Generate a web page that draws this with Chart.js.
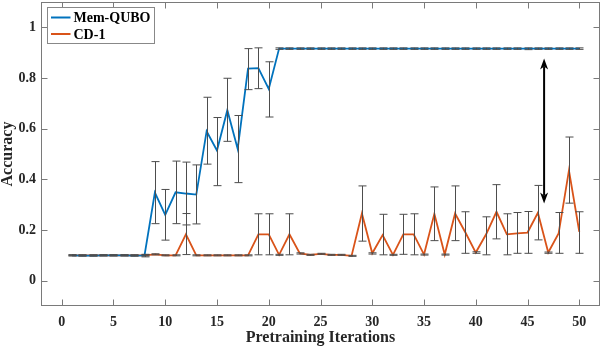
<!DOCTYPE html>
<html>
<head>
<meta charset="utf-8">
<script src="https://cdn.jsdelivr.net/npm/chart.js@4"></script>
<style>
  html, body { margin: 0; padding: 0; background: #fff; }
  canvas { display: block; }
</style>
</head>
<body>
<canvas id="accChart" width="602" height="348"></canvas>
<script>
const iterations = [1,2,3,4,5,6,7,8,9,10,11,12,13,14,15,16,17,18,19,20,21,22,23,24,25,26,27,28,29,30,31,32,33,34,35,36,37,38,39,40,41,42,43,44,45,46,47,48,49,50];

const memQubo = [0.1,0.099,0.099,0.1,0.1,0.1,0.099,0.1,0.348,0.26,0.349,0.344,0.34,0.59,0.514,0.673,0.52,0.837,0.839,0.757,
  0.916,0.916,0.916,0.916,0.916,0.916,0.916,0.916,0.916,0.916,0.916,0.916,0.916,0.916,0.916,0.916,0.916,0.916,0.916,0.916,
  0.916,0.916,0.916,0.916,0.916,0.916,0.916,0.916,0.916,0.916];
const memQuboLow = [0.098,0.097,0.097,0.098,0.098,0.098,0.097,0.094,0.225,0.16,0.225,0.22,0.224,0.46,0.375,0.55,0.387,0.754,0.758,0.646,
  0.913,0.913,0.913,0.913,0.913,0.913,0.913,0.913,0.913,0.913,0.913,0.913,0.913,0.913,0.913,0.913,0.913,0.913,0.913,0.913,
  0.913,0.913,0.913,0.913,0.912,0.913,0.913,0.913,0.913,0.913];
const memQuboHigh = [0.102,0.101,0.101,0.102,0.102,0.102,0.101,0.104,0.47,0.36,0.472,0.468,0.457,0.724,0.644,0.799,0.652,0.916,0.919,0.864,
  0.919,0.919,0.919,0.919,0.919,0.919,0.919,0.919,0.919,0.919,0.919,0.919,0.919,0.919,0.919,0.919,0.919,0.919,0.919,0.919,
  0.919,0.919,0.919,0.919,0.919,0.919,0.919,0.919,0.919,0.919];

const cdOne = [0.1,0.1,0.1,0.1,0.1,0.1,0.1,0.1,0.104,0.1,0.1,0.183,0.1,0.1,0.1,0.1,0.1,0.1,0.183,0.183,
  0.102,0.183,0.108,0.102,0.106,0.102,0.102,0.098,0.265,0.108,0.18,0.102,0.183,0.183,0.103,0.264,0.103,0.265,0.19,0.111,
  0.183,0.272,0.183,0.187,0.19,0.268,0.111,0.186,0.435,0.193];
const cdOneLow = [0.098,0.098,0.098,0.098,0.098,0.098,0.098,0.098,0.102,0.098,0.098,0.103,0.098,0.098,0.098,0.098,0.098,0.098,0.102,0.102,
  0.1,0.102,0.105,0.1,0.104,0.1,0.1,0.096,0.156,0.105,0.102,0.1,0.104,0.102,0.101,0.158,0.101,0.158,0.108,0.108,
  0.102,0.165,0.102,0.108,0.108,0.161,0.108,0.108,0.306,0.108];
const cdOneHigh = [0.102,0.102,0.102,0.102,0.102,0.102,0.102,0.102,0.106,0.102,0.102,0.265,0.102,0.102,0.102,0.102,0.102,0.102,0.264,0.264,
  0.104,0.264,0.11,0.104,0.108,0.104,0.104,0.1,0.374,0.11,0.262,0.104,0.262,0.264,0.105,0.37,0.105,0.374,0.272,0.114,
  0.252,0.379,0.264,0.269,0.273,0.376,0.113,0.269,0.567,0.272];

const xTicks = [0,5,10,15,20,25,30,35,40,45,50];
const yTicks = [0,0.2,0.4,0.6,0.8,1];
const yTickLabels = ['0','0.2','0.4','0.6','0.8','1'];

// the double arrow between the two curves (data units)
const arrowX = 46.6;
const arrowFrom = 0.305;
const arrowTo = 0.877;

const serif = '"Liberation Serif", "Times New Roman", serif';

function toPoints(ys) {
  return iterations.map((x, i) => ({ x: x, y: ys[i] }));
}

const errorBars = [
  { low: memQuboLow, high: memQuboHigh },
  { low: cdOneLow, high: cdOneHigh }
];

function arrowHead(ctx, x, y, dir) {
  // dir = -1 points up, 1 points down
  ctx.beginPath();
  ctx.moveTo(x, y);
  ctx.lineTo(x - 4, y - dir * 11);
  ctx.lineTo(x, y - dir * 8);
  ctx.lineTo(x + 4, y - dir * 11);
  ctx.closePath();
  ctx.fill();
}

const matlabFrame = {
  id: 'matlabFrame',
  afterDatasetsDraw(chart) {
    const ctx = chart.ctx;
    const xs = chart.scales.x;
    const ys = chart.scales.y;
    const area = chart.chartArea;

    // error bars
    ctx.save();
    ctx.strokeStyle = '#4d4d4d';
    ctx.lineWidth = 1;
    errorBars.forEach(eb => {
      iterations.forEach((it, i) => {
        const px = Math.round(xs.getPixelForValue(it)) + 0.5;
        const top = ys.getPixelForValue(eb.high[i]);
        const bot = ys.getPixelForValue(eb.low[i]);
        ctx.beginPath();
        ctx.moveTo(px, top);
        ctx.lineTo(px, bot);
        ctx.moveTo(px - 4, top);
        ctx.lineTo(px + 4, top);
        ctx.moveTo(px - 4, bot);
        ctx.lineTo(px + 4, bot);
        ctx.stroke();
      });
    });
    ctx.restore();

    // arrow
    ctx.save();
    ctx.strokeStyle = '#000';
    ctx.fillStyle = '#000';
    ctx.lineWidth = 2;
    const ax = xs.getPixelForValue(arrowX);
    const ayTop = ys.getPixelForValue(arrowTo);
    const ayBot = ys.getPixelForValue(arrowFrom);
    ctx.beginPath();
    ctx.moveTo(ax, ayTop + 8);
    ctx.lineTo(ax, ayBot - 8);
    ctx.stroke();
    arrowHead(ctx, ax, ayTop, -1);
    arrowHead(ctx, ax, ayBot, 1);
    ctx.restore();

    // box and inward ticks
    ctx.save();
    ctx.strokeStyle = '#7a7a7a';
    ctx.lineWidth = 1;
    const l = Math.round(area.left) + 0.5, r = Math.round(area.right) - 0.5;
    const t = Math.round(area.top) + 0.5, b = Math.round(area.bottom) - 0.5;
    ctx.strokeRect(l, t, r - l, b - t);
    ctx.beginPath();
    xTicks.forEach(v => {
      const px = Math.round(xs.getPixelForValue(v)) + 0.5;
      ctx.moveTo(px, b); ctx.lineTo(px, b - 6);
      ctx.moveTo(px, t); ctx.lineTo(px, t + 6);
    });
    yTicks.forEach(v => {
      const py = Math.round(ys.getPixelForValue(v)) + 0.5;
      ctx.moveTo(l, py); ctx.lineTo(l + 6, py);
      ctx.moveTo(r, py); ctx.lineTo(r - 6, py);
    });
    ctx.stroke();
    ctx.restore();
  },
  afterDraw(chart) {
    // legend box, top-left inside the axes
    const ctx = chart.ctx;
    const area = chart.chartArea;
    const bx = area.left + 6.5, by = area.top + 5.5;
    ctx.save();
    ctx.fillStyle = '#fff';
    ctx.fillRect(bx, by, 107, 36);
    ctx.strokeStyle = '#888';
    ctx.lineWidth = 1;
    ctx.strokeRect(bx, by, 107, 36);
    ctx.font = 'bold 14px ' + serif;
    ctx.textBaseline = 'middle';
    chart.data.datasets.forEach((ds, i) => {
      const ly = by + 10 + i * 16.5;
      ctx.strokeStyle = ds.borderColor;
      ctx.lineWidth = 2;
      ctx.beginPath();
      ctx.moveTo(bx + 3.5, ly);
      ctx.lineTo(bx + 23, ly);
      ctx.stroke();
      ctx.fillStyle = '#000';
      ctx.fillText(ds.label, bx + 26, ly + 1);
    });
    ctx.restore();
  }
};

const ctx = document.getElementById('accChart').getContext('2d');
const accChart = new Chart(ctx, {
  type: 'line',
  data: {
    datasets: [
      {
        label: 'Mem-QUBO',
        data: toPoints(memQubo),
        borderColor: '#0072BD',
        borderWidth: 1.8,
        pointRadius: 0,
        tension: 0
      },
      {
        label: 'CD-1',
        data: toPoints(cdOne),
        borderColor: '#D95319',
        borderWidth: 1.8,
        pointRadius: 0,
        tension: 0
      }
    ]
  },
  options: {
    responsive: false,
    animation: false,
    devicePixelRatio: 1,
    layout: { padding: { top: 2, right: 2, left: 0, bottom: 0 } },
    plugins: {
      legend: { display: false },
      tooltip: { enabled: false }
    },
    scales: {
      x: {
        type: 'linear',
        min: -2,
        max: 52,
        grid: { display: false, drawTicks: false },
        border: { display: false },
        afterBuildTicks: scale => { scale.ticks = xTicks.map(v => ({ value: v })); },
        afterFit: scale => {
          scale.height = 42;
          scale.paddingLeft = 0;
          scale.paddingRight = 0;
        },
        ticks: {
          padding: 8,
          maxRotation: 0,
          color: '#262626',
          font: { family: serif, size: 14, weight: 'bold' }
        },
        title: {
          display: true,
          text: 'Pretraining Iterations',
          color: '#262626',
          padding: { top: 0, bottom: 1 },
          font: { family: serif, size: 16, weight: 'bold' }
        }
      },
      y: {
        min: -0.1,
        max: 1.1,
        grid: { display: false, drawTicks: false },
        border: { display: false },
        afterBuildTicks: scale => { scale.ticks = yTicks.map(v => ({ value: v })); },
        afterFit: scale => {
          scale.width = 41;
          scale.paddingTop = 0;
          scale.paddingBottom = 0;
        },
        ticks: {
          padding: 5,
          color: '#262626',
          font: { family: serif, size: 14, weight: 'bold' },
          callback: (v) => yTickLabels[yTicks.indexOf(v)]
        },
        title: {
          display: true,
          text: 'Accuracy',
          color: '#262626',
          padding: { top: -2, bottom: 0 },
          font: { family: serif, size: 16, weight: 'bold' }
        }
      }
    }
  },
  plugins: [matlabFrame]
});
</script>
</body>
</html>
